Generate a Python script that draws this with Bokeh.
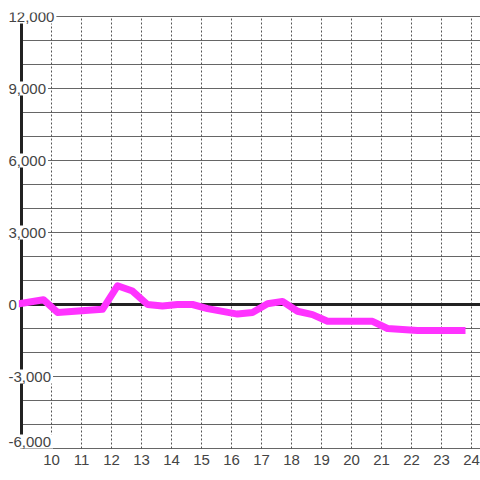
from bokeh.plotting import figure
from bokeh.models import Label, FixedTicker
from bokeh.embed import file_html
from bokeh.resources import INLINE

# ---- data ----
hours = [8.87, 9.73, 10.2, 11.7, 12.2, 12.7, 13.2, 13.7, 14.2, 14.7, 15.2, 16.2, 16.7,
         17.2, 17.7, 18.2, 18.7, 19.2, 20.7, 21.2, 22.2, 23.8]
values = [20, 200, -330, -200, 780, 560, 0, -60, 0, 0, -170, -400, -330,
          30, 130, -280, -420, -700, -700, -1000, -1080, -1080]
x_ticks = list(range(10, 25))
y_grid = list(range(-6000, 12001, 1000))
y_label_values = [12000, 9000, 6000, 3000, 0, -3000, -6000]
y_label_texts = ["12,000", "9,000", "6,000", "3,000", "0", "-3,000", "-6,000"]

X0, X1 = 9.0, 24.3
Y0, Y1 = -6000, 12000

p = figure(width=480, height=480, output_backend="svg", toolbar_location=None,
           x_range=(8.3, 24.3), y_range=(-6083.3, 12166.7),
           y_axis_location=None, min_border_left=0, min_border_right=0,
           min_border_top=12, min_border_bottom=30)
p.outline_line_color = None
p.background_fill_color = "white"
p.border_fill_color = "white"
p.xgrid.visible = False
p.ygrid.visible = False

# x axis
p.xaxis.ticker = FixedTicker(ticks=x_ticks)
p.xaxis.axis_line_color = None
p.xaxis.major_tick_line_color = None
p.xaxis.minor_tick_line_color = None
p.xaxis.major_tick_out = 0
p.xaxis.major_tick_in = 0
p.xaxis.major_label_standoff = 4
p.xaxis.major_label_text_font = "Liberation Sans"
p.xaxis.major_label_text_font_size = "15px"
p.xaxis.major_label_text_color = "#444444"

# horizontal grid
p.segment(x0=[X0] * len(y_grid), y0=y_grid, x1=[X1] * len(y_grid), y1=y_grid,
          line_color="#666666", line_width=1)
# vertical dotted grid
p.segment(x0=x_ticks, y0=[Y0] * len(x_ticks), x1=x_ticks, y1=[Y1] * len(x_ticks),
          line_color="#555555", line_width=1, line_dash="2 2")
# zero line and y axis line
p.segment(x0=[X0], y0=[0], x1=[X1], y1=[0], line_color="#222222", line_width=3)
p.segment(x0=[X0], y0=[Y0], x1=[X0], y1=[Y1], line_color="#222222", line_width=3)

# data line
p.line(hours, values, line_color="#ff33ff", line_width=7, line_join="round")

# y labels with white background
ymin = min(y_label_values)
for v, t in zip(y_label_values, y_label_texts):
    p.add_layout(Label(x=8.5, y=v, text=t, text_font="Liberation Sans",
                       text_font_size="15px", text_color="#444444",
                       text_baseline="bottom" if v == ymin else "middle",
                       text_align="left",
                       background_fill_color="white", padding=2))

open("out.html", "w").write(file_html(p, INLINE))
